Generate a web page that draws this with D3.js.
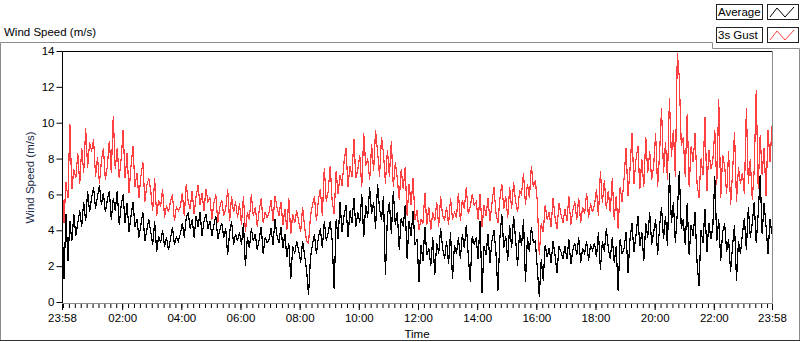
<!DOCTYPE html>
<html>
<head>
<meta charset="utf-8">
<script src="https://cdn.jsdelivr.net/npm/d3@7"></script>
<style>
  body { margin: 0; background: #fff; }
  svg { display: block; font-family: "Liberation Sans", Arial, sans-serif; }
</style>
</head>
<body>
<svg id="chart" width="800" height="342"></svg>
<script>
// one sample every 4 minutes, 23:58 -> 23:58 next day (15 samples per hour row)
const avgSpeed = [
  4.6, 1.3, 4.9, 2.3, 4.5, 3.4, 4.9, 3.7, 4.4, 5.1, 4.2, 5.6, 4.5, 6.2, 5.0,
  5.8, 6.4, 5.2, 5.9, 6.5, 5.4, 6.1, 5.0, 5.7, 6.2, 4.6, 5.8, 5.1, 6.2, 4.3,
  5.4, 6.0, 4.4, 5.5, 3.9, 4.8, 5.6, 4.2, 4.6, 3.6, 4.3, 5.0, 3.4, 4.0, 4.6,
  3.9, 3.2, 4.5, 2.8, 3.7, 3.3, 4.0, 3.1, 3.6, 2.9, 3.5, 4.2, 3.2, 3.6, 3.4,
  3.8, 4.4, 3.6, 4.7, 5.0, 4.1, 4.6, 3.6, 4.8, 4.2, 5.0, 3.7, 4.5, 4.9, 4.1,
  4.5, 3.7, 4.3, 4.8, 3.5, 4.0, 4.4, 3.6, 4.1, 2.6, 3.9, 4.5, 3.2, 3.8, 3.4,
  3.9, 3.2, 4.4, 2.0, 3.6, 3.0, 4.1, 3.4, 3.8, 2.9, 3.5, 4.2, 2.7, 3.6, 3.3,
  3.5, 4.1, 3.2, 4.6, 3.7, 3.3, 4.2, 3.0, 3.8, 2.5, 3.3, 1.3, 3.1, 2.7, 3.4,
  2.9, 2.2, 3.4, 2.6, 1.8, 0.4, 2.5, 3.2, 3.8, 2.7, 3.6, 4.1, 3.0, 4.5, 3.4,
  3.9, 4.5, 3.4, 0.7, 4.6, 3.5, 5.6, 3.9, 4.8, 5.4, 3.6, 5.1, 4.4, 5.8, 4.2,
  5.0, 4.4, 6.0, 3.6, 5.4, 4.7, 6.4, 4.9, 5.6, 4.1, 6.6, 5.2, 4.6, 5.9, 1.5,
  4.8, 5.6, 3.8, 6.2, 4.3, 5.0, 2.9, 4.7, 4.2, 5.4, 2.4, 4.5, 3.7, 5.1, 3.2,
  3.5, 1.1, 3.2, 2.3, 4.2, 2.6, 3.0, 2.0, 3.6, 1.5, 3.3, 2.7, 4.1, 3.0, 2.4,
  3.4, 2.1, 3.9, 1.3, 3.2, 2.7, 3.6, 2.4, 3.8, 3.0, 4.3, 2.6, 1.1, 3.7, 3.2,
  3.6, 2.4, 4.5, 0.5, 3.1, 2.6, 3.8, 2.2, 3.4, 4.0, 2.8, 0.6, 3.5, 4.9, 3.0,
  3.7, 2.3, 4.3, 3.0, 4.8, 3.5, 2.0, 3.9, 3.1, 4.6, 1.1, 3.6, 2.8, 4.2, 3.3,
  3.4, 1.9, 0.3, 2.4, 1.2, 3.2, 2.5, 3.0, 2.2, 3.4, 2.6, 1.6, 3.1, 2.8, 2.4,
  3.1, 2.4, 3.5, 2.1, 2.9, 3.3, 2.6, 3.6, 2.2, 3.0, 2.7, 3.4, 2.3, 3.2, 2.9,
  3.3, 2.5, 3.9, 1.8, 3.4, 2.8, 4.1, 3.0, 2.4, 3.6, 2.2, 3.1, 0.6, 3.5, 2.7,
  3.0, 3.9, 1.6, 3.5, 4.4, 2.8, 3.7, 4.8, 3.1, 3.9, 2.3, 4.4, 3.6, 5.0, 3.2,
  3.9, 4.6, 2.6, 4.2, 5.3, 3.5, 4.8, 3.1, 7.2, 4.4, 5.6, 3.3, 5.0, 7.3, 4.1,
  4.6, 3.2, 5.5, 2.6, 4.3, 3.7, 5.0, 2.2, 0.9, 4.0, 3.3, 5.2, 2.8, 4.4, 3.5,
  4.2, 7.0, 3.4, 4.6, 2.3, 3.9, 4.4, 2.8, 3.5, 1.7, 3.1, 4.3, 1.2, 3.4, 2.7,
  3.8, 4.7, 2.9, 5.3, 3.6, 4.4, 5.6, 3.3, 4.9, 7.1, 3.8, 5.5, 4.2, 2.7, 4.6,
  3.8
];

const gustSpeed = [
  6.8, 4.4, 6.7, 5.8, 9.9, 6.3, 7.4, 6.9, 8.3, 6.6, 8.6, 7.2, 9.7, 7.5, 8.9,
  8.4, 9.1, 7.0, 8.1, 6.6, 7.9, 8.6, 6.8, 7.6, 9.0, 7.2, 10.4, 7.4, 8.6, 6.9,
  8.0, 9.6, 6.9, 8.3, 6.1, 7.6, 8.7, 6.4, 7.2, 5.8, 7.0, 7.8, 5.6, 6.5, 6.9,
  6.2, 5.1, 6.9, 4.8, 5.7, 5.3, 6.3, 4.7, 5.4, 5.0, 5.6, 6.0, 4.5, 5.3, 5.1,
  5.3, 6.1, 4.8, 6.6, 5.6, 5.2, 6.2, 4.9, 5.9, 6.5, 5.4, 6.1, 5.1, 6.3, 5.6,
  5.8, 4.6, 5.5, 6.0, 4.4, 5.3, 5.7, 4.8, 5.2, 6.3, 4.5, 5.9, 5.0, 5.6, 4.7,
  5.5, 4.3, 5.9, 3.9, 5.0, 4.6, 6.0, 4.8, 5.3, 4.2, 5.1, 5.8, 4.4, 5.0, 4.7,
  5.0, 5.7, 4.5, 5.9, 5.3, 4.8, 5.6, 4.3, 5.2, 4.0, 5.8, 3.8, 4.9, 4.4, 5.1,
  4.5, 3.9, 5.3, 4.2, 3.4, 3.3, 4.8, 5.4, 5.9, 4.5, 5.7, 6.3, 4.8, 7.5, 5.6,
  6.2, 7.6, 5.6, 4.9, 7.3, 6.0, 7.1, 6.5, 7.8, 8.6, 6.4, 7.6, 7.0, 9.1, 6.9,
  7.4, 8.2, 6.4, 9.4, 7.6, 8.0, 6.8, 8.8, 7.3, 9.6, 8.4, 7.0, 9.2, 8.3, 6.6,
  8.5, 7.0, 9.0, 6.4, 7.8, 6.9, 5.7, 7.4, 6.3, 7.5, 4.8, 6.6, 5.4, 6.9, 4.6,
  5.1, 4.0, 4.6, 4.4, 6.1, 4.3, 5.3, 4.0, 5.0, 4.5, 5.6, 4.2, 5.9, 4.8, 4.6,
  5.3, 4.3, 5.8, 4.6, 5.0, 4.7, 6.1, 4.5, 5.7, 5.2, 6.4, 4.9, 5.3, 6.0, 5.4,
  5.6, 4.6, 6.0, 4.2, 5.4, 4.8, 5.8, 4.5, 5.5, 6.4, 5.0, 4.4, 5.7, 6.6, 5.2,
  5.9, 4.7, 6.4, 5.2, 6.7, 5.6, 5.0, 6.2, 6.0, 7.2, 5.4, 6.6, 5.8, 7.6, 6.4,
  6.8, 5.6, 2.6, 4.4, 3.9, 5.4, 4.6, 5.0, 4.2, 5.8, 4.7, 4.1, 5.5, 4.9, 4.4,
  5.2, 4.5, 5.9, 4.3, 5.1, 5.6, 4.6, 5.8, 4.4, 5.3, 4.9, 6.1, 4.7, 5.5, 5.0,
  5.4, 6.3, 4.8, 7.3, 5.5, 6.8, 5.2, 6.2, 5.0, 6.9, 4.6, 5.9, 4.1, 6.4, 5.6,
  6.9, 8.6, 5.9, 7.4, 9.4, 6.6, 7.9, 8.7, 6.3, 8.0, 6.4, 9.2, 7.2, 8.4, 6.8,
  7.6, 9.4, 6.4, 8.3, 10.8, 7.2, 8.9, 6.8, 11.4, 8.1, 9.6, 7.0, 13.9, 12.5, 8.7,
  9.2, 7.0, 10.5, 6.4, 8.7, 7.8, 9.4, 6.6, 5.8, 8.0, 7.1, 10.3, 6.2, 8.5, 7.4,
  7.9, 9.6, 6.5, 11.3, 5.8, 8.2, 7.6, 6.0, 8.4, 5.4, 7.2, 9.5, 5.6, 7.5, 6.6,
  7.2, 6.0, 10.8, 6.6, 8.0, 5.7, 7.4, 11.8, 6.3, 9.3, 7.1, 8.6, 5.9, 9.6, 7.8,
  9.8
];

const yTicks = [0, 2, 4, 6, 8, 10, 12, 14];
const majorHours = [2, 4, 6, 8, 10, 12, 14, 16, 18, 20, 22]; // labelled hh:00 ticks
const seriesNames = ["Average", "3s Gust"];
const seriesColors = ["#000000", "#ff4040"];

const svg = d3.select("#chart");
const start = new Date(2020, 0, 1, 23, 58);
const end = new Date(2020, 0, 2, 23, 58);
const stepMs = 4 * 60 * 1000;

const x = d3.scaleTime().domain([start, end]).range([62, 772]);
const y = d3.scaleLinear().domain([0, 14]).range([302, 51]);

const timeOf = i => new Date(start.getTime() + i * stepMs);

// outer panel frame
svg.append("path")
  .attr("d", "M0.5,340 V42.5 H712.5 V48.5 H799.5 V340")
  .attr("fill", "none").attr("stroke", "#8c8c8c");
svg.append("line")
  .attr("x1", 0).attr("x2", 800).attr("y1", 340.5).attr("y2", 340.5)
  .attr("stroke", "#333");

svg.append("text")
  .attr("x", 4).attr("y", 36)
  .style("font-size", "11.5px")
  .text("Wind Speed (m/s)");

// legend
seriesNames.forEach((name, i) => {
  const top = 4 + i * 23;
  const g = svg.append("g");
  g.append("rect")
    .attr("x", 716.5).attr("y", top + 0.5)
    .attr("width", 46).attr("height", 15)
    .attr("fill", "#fff").attr("stroke", "#222");
  g.append("text")
    .attr("x", 718).attr("y", top + 12)
    .style("font-size", "11.5px")
    .text(name);
  g.append("rect")
    .attr("x", 767.5).attr("y", top + 0.5)
    .attr("width", 31).attr("height", 15)
    .attr("fill", "#fff").attr("stroke", "#222");
  g.append("polyline")
    .attr("points", [[770, top + 13], [777, top + 4], [785, top + 13], [794, top + 3]].join(" "))
    .attr("fill", "none")
    .attr("stroke", seriesColors[i]);
});

// plot area
svg.append("rect")
  .attr("x", 62).attr("y", 51).attr("width", 710).attr("height", 252)
  .attr("fill", "#fff");

svg.append("defs").append("clipPath").attr("id", "clip")
  .append("rect").attr("x", 62).attr("y", 51).attr("width", 710).attr("height", 252);

const line = d3.line()
  .x((d, i) => x(timeOf(i)))
  .y(d => y(d));

// LabVIEW draws without anti-aliasing, so keep the traces crisp
const plot = svg.append("g").attr("clip-path", "url(#clip)");
plot.append("path")
  .datum(gustSpeed)
  .attr("d", line)
  .attr("fill", "none")
  .attr("stroke", seriesColors[1])
  .attr("stroke-width", 1.2)
  .attr("shape-rendering", "crispEdges");
plot.append("path")
  .datum(avgSpeed)
  .attr("d", line)
  .attr("fill", "none")
  .attr("stroke", seriesColors[0])
  .attr("stroke-width", 1.2)
  .attr("shape-rendering", "crispEdges");

// plot border: dark top/left, grey right/bottom
svg.append("path").attr("d", "M62.5,303 V51.5 H772")
  .attr("fill", "none").attr("stroke", "#000");
svg.append("path").attr("d", "M772.5,51 V303.5 H62")
  .attr("fill", "none").attr("stroke", "#8c8c8c");

// y axis
const yAxis = svg.append("g")
  .attr("transform", "translate(62.5,0)")
  .call(d3.axisLeft(y).tickValues(yTicks).tickSize(6).tickPadding(2));
yAxis.select(".domain").remove();
yAxis.selectAll("line").attr("stroke", "#000");
yAxis.selectAll("text").style("font-size", "11.5px").attr("fill", "#000")
  .style("font-family", "Liberation Sans, Arial, sans-serif");

// x axis minor ticks every 12 minutes
const minorTicks = d3.timeMinute.every(12).range(start, end);
const xMinor = svg.append("g")
  .attr("transform", "translate(0,304)")
  .call(d3.axisBottom(x).tickValues(minorTicks).tickSize(4).tickFormat(""));
xMinor.select(".domain").remove();
xMinor.selectAll("line").attr("stroke", "#000");

const majorTicks = [start].concat(majorHours.map(h => new Date(2020, 0, 2, h, 0)), [end]);
const xAxis = svg.append("g")
  .attr("transform", "translate(0,304)")
  .call(d3.axisBottom(x).tickValues(majorTicks).tickSize(6).tickPadding(4)
    .tickFormat(d3.timeFormat("%H:%M")));
xAxis.select(".domain").remove();
xAxis.selectAll("line").attr("stroke", "#000");
xAxis.selectAll("text").style("font-size", "11.5px").attr("fill", "#000")
  .style("font-family", "Liberation Sans, Arial, sans-serif");

svg.append("text")
  .attr("x", (x.range()[0] + x.range()[1]) / 2).attr("y", 338)
  .attr("text-anchor", "middle")
  .style("font-size", "11.5px")
  .text("Time");

svg.append("text")
  .attr("transform", `translate(34,${(y.range()[0] + y.range()[1]) / 2 + 1}) rotate(-90)`)
  .attr("text-anchor", "middle")
  .attr("fill", "#1d2c4c")
  .style("font-size", "11.5px")
  .text("Wind Speed (m/s)");
</script>
</body>
</html>
